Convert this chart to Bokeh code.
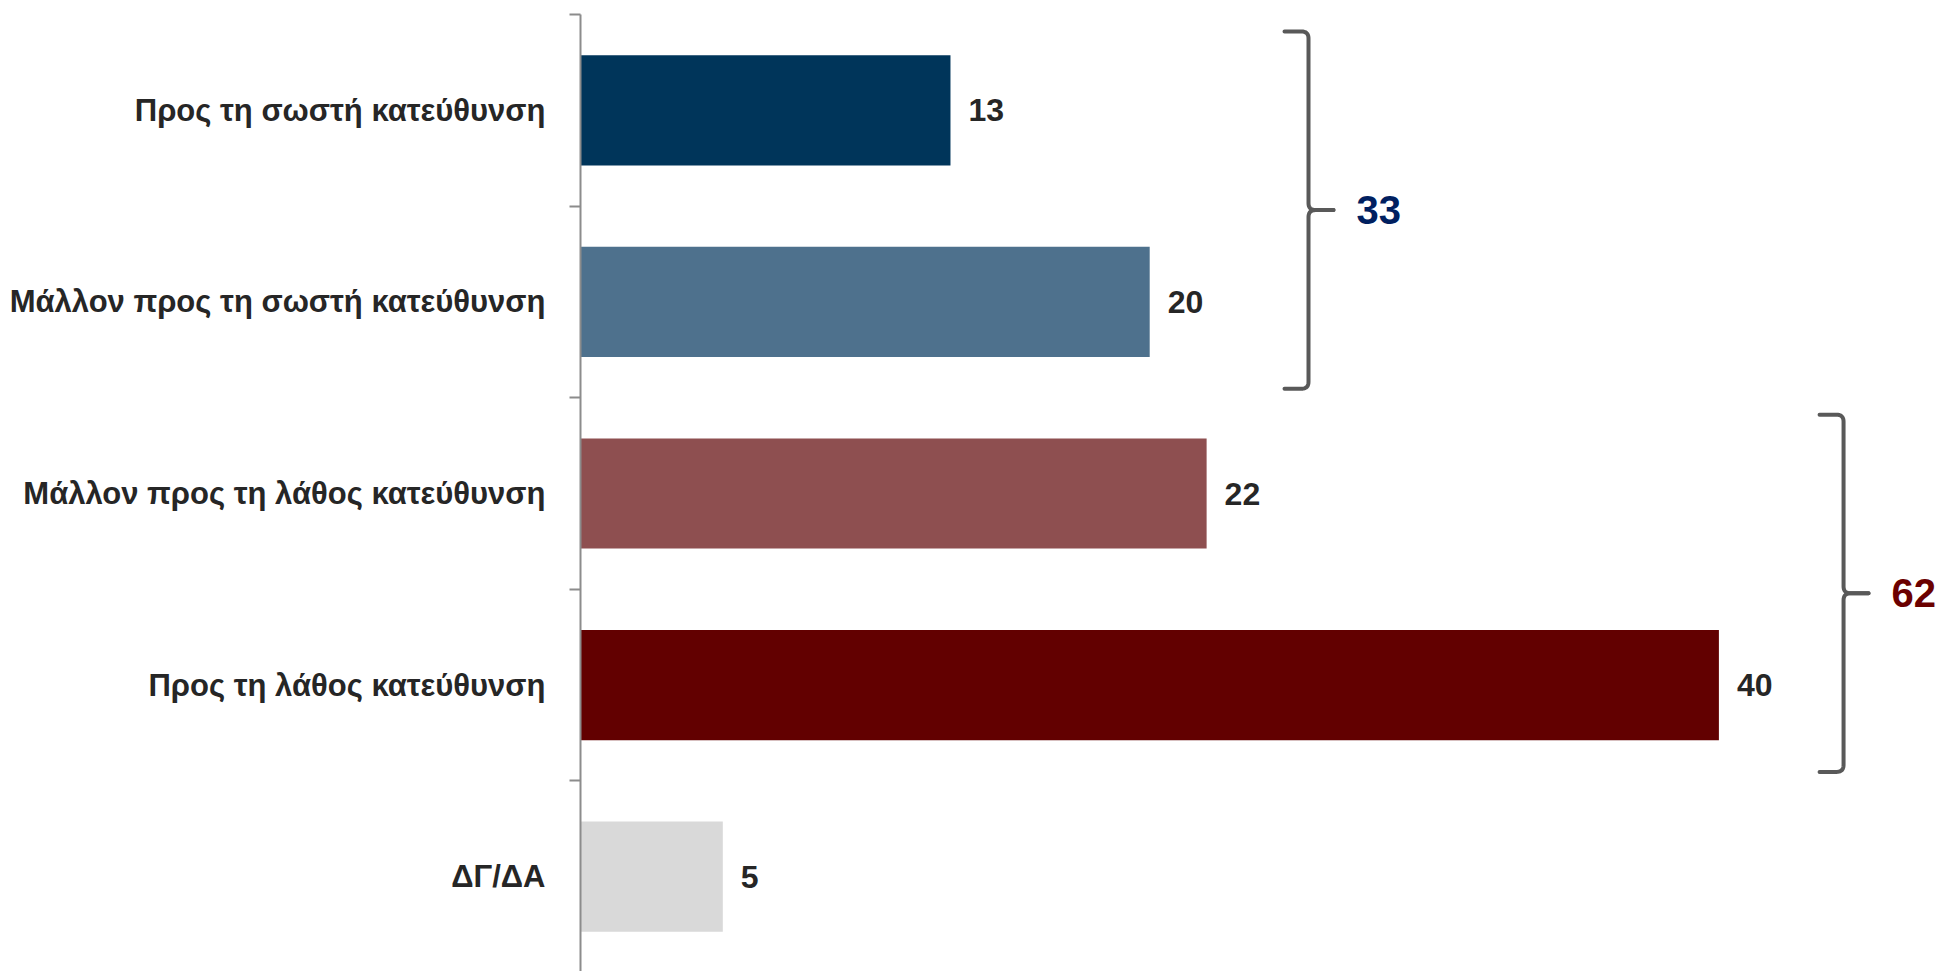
from bokeh.plotting import figure
from bokeh.models import Range1d, FixedTicker, ColumnDataSource
from bokeh.core.properties import value
from bokeh.embed import file_html
from bokeh.resources import INLINE

# ---------------- data ----------------
categories = [
    "Προς τη σωστή κατεύθυνση",
    "Μάλλον προς τη σωστή κατεύθυνση",
    "Μάλλον προς τη λάθος κατεύθυνση",
    "Προς τη λάθος κατεύθυνση",
    "ΔΓ/ΔΑ",
]
values = [13, 20, 22, 40, 5]
bar_colors = ["#00355A", "#4E718D", "#8E4F50", "#620000", "#D9D9D9"]

group_labels = ["33", "62"]
group_first = [0, 2]   # index of first category in group
group_last = [1, 3]    # index of last category in group
group_colors = ["#002060", "#6B0000"]

# ---------------- layout constants ----------------
FONT = "'Liberation Sans Narrow', 'Arial Narrow', 'Liberation Sans', sans-serif"
W, H = 1939, 971
LEFT, TOP = 580, 14
frame_w = W - LEFT
frame_h = H - TOP
n = len(categories)
px_per_x = 28.46
px_per_y = 191.6
x_end = frame_w / px_per_x
y_start = n - frame_h / px_per_y

ypos = [n - i - 0.5 for i in range(n)]
boundaries = [float(b) for b in range(n + 1)]

p = figure(width=W, height=H, output_backend="svg", toolbar_location=None,
           x_range=Range1d(0, x_end), y_range=Range1d(y_start, n),
           x_axis_location=None, min_border_left=LEFT, min_border_top=TOP,
           min_border_right=0, min_border_bottom=0)
p.outline_line_color = None
p.xgrid.visible = False
p.ygrid.visible = False
p.background_fill_color = "white"
p.border_fill_color = "white"

ax = p.yaxis[0]
ax.ticker = FixedTicker(ticks=ypos, minor_ticks=boundaries)
ax.major_label_overrides = {y: c for y, c in zip(ypos, categories)}
ax.axis_line_color = "#8C8C8C"
ax.axis_line_width = 2
ax.major_tick_out = 0
ax.major_tick_in = 0
ax.major_tick_line_color = None
ax.minor_tick_out = 11
ax.minor_tick_in = 0
ax.minor_tick_line_color = "#8C8C8C"
ax.minor_tick_line_width = 2
ax.major_label_standoff = 24
ax.major_label_text_font = FONT
ax.major_label_text_font_size = "31px"
ax.major_label_text_font_style = "bold"
ax.major_label_text_color = "#262626"

src = ColumnDataSource(dict(y=ypos, v=values, c=bar_colors, t=[str(v) for v in values]))
p.hbar(y="y", left=0, right="v", height=0.575, fill_color="c", line_color=None, source=src)
p.text(x="v", y="y", text="t", source=src, x_offset=18, text_align="left",
       text_baseline="middle", text_font=value(FONT), text_font_size="32px",
       text_font_style="bold", text_color="#262626")

# ---------------- brackets ----------------
bracket_x = [25.58, 44.38]   # data x of the vertical stroke
hook_px, tip_px, r_px = 24, 25, 7
inset_top_px, inset_bot_px = 17, 9


def qbez(p0, p1, p2, k=10):
    pts = []
    for j in range(1, k + 1):
        t = j / k
        a = (1 - t) ** 2
        b = 2 * (1 - t) * t
        c = t ** 2
        pts.append((a * p0[0] + b * p1[0] + c * p2[0], a * p0[1] + b * p1[1] + c * p2[1]))
    return pts


xs_all, ys_all, lx, ly = [], [], [], []
for gi in range(len(group_labels)):
    xl = bracket_x[gi]
    yt = n - group_first[gi] - inset_top_px / px_per_y
    yb = n - group_last[gi] - 1 + inset_bot_px / px_per_y
    ym = (yt + yb) / 2
    hx = hook_px / px_per_x
    tx = tip_px / px_per_x
    rx = r_px / px_per_x
    ry = r_px / px_per_y
    up = [(xl - hx, yt), (xl - rx, yt)]
    up += qbez((xl - rx, yt), (xl, yt), (xl, yt - ry))
    up += [(xl, ym + ry)]
    up += qbez((xl, ym + ry), (xl, ym), (xl + rx, ym))
    up += [(xl + tx, ym)]
    lo = [(xl + tx, ym), (xl + rx, ym)]
    lo += qbez((xl + rx, ym), (xl, ym), (xl, ym - ry))
    lo += [(xl, yb + ry)]
    lo += qbez((xl, yb + ry), (xl, yb), (xl - rx, yb))
    lo += [(xl - hx, yb)]
    for part in (up, lo):
        xs_all.append([q[0] for q in part])
        ys_all.append([q[1] for q in part])
    lx.append(xl + tx)
    ly.append(ym)

p.multi_line(xs=xs_all, ys=ys_all, line_color="#595959", line_width=4,
             line_join="round", line_cap="round")
p.text(x=lx, y=ly, text=group_labels, x_offset=23, text_align="left",
       text_baseline="middle", text_font=value(FONT), text_font_size="40px",
       text_font_style="bold", text_color=group_colors)

open("out.html", "w").write(file_html(p, INLINE))
